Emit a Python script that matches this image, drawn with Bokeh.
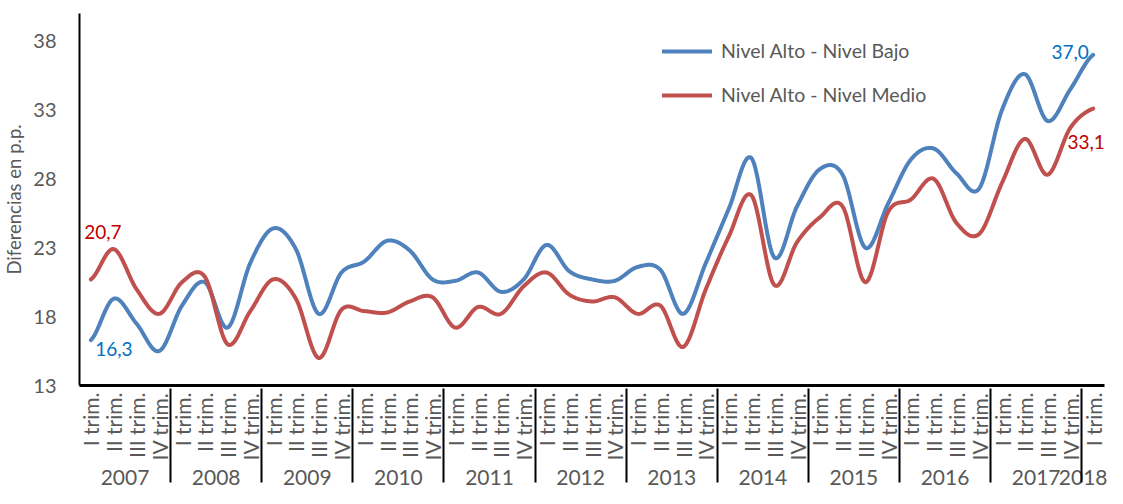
import numpy as np
from bokeh.plotting import figure
from bokeh.models import FactorRange, Range1d, FixedTicker, Legend, LegendItem
from bokeh.core.properties import value
from bokeh.embed import file_html
from bokeh.resources import INLINE

years = ["2007", "2008", "2009", "2010", "2011", "2012", "2013", "2014",
         "2015", "2016", "2017", "2018"]
quarters = ["I trim.", "II trim.", "III trim.", "IV trim."]
factors = [(y, q) for y in years[:-1] for q in quarters] + [("2018", "I trim.")]

alto_bajo = [16.3, 19.3, 17.5, 15.5,
             18.8, 20.5, 17.2, 21.9,
             24.4, 22.9, 18.2, 21.2,
             22.0, 23.5, 22.8, 20.7,
             20.6, 21.2, 19.8, 20.7,
             23.2, 21.3, 20.7, 20.6,
             21.6, 21.4, 18.2, 21.9,
             25.8, 29.5, 22.3, 26.0,
             28.7, 28.3, 23.0, 26.2,
             29.4, 30.2, 28.4, 27.3,
             33.0, 35.6, 32.2, 34.5,
             37.0]
alto_medio = [20.7, 22.9, 20.0, 18.2,
              20.5, 20.9, 16.0, 18.4,
              20.7, 19.3, 15.0, 18.5,
              18.4, 18.3, 19.1, 19.4,
              17.2, 18.7, 18.2, 20.2,
              21.2, 19.6, 19.1, 19.4,
              18.2, 18.8, 15.8, 20.0,
              23.8, 26.8, 20.3, 23.4,
              25.2, 26.0, 20.5, 25.6,
              26.5, 28.0, 24.8, 24.0,
              27.7, 30.9, 28.3, 31.7,
              33.1]
y_ticks = [13, 18, 23, 28, 33, 38]

BLUE = "#4F81BD"
RED = "#C0504D"
GREY = "#595959"
FONT = "Lato"


def smooth(vals, n=24):
    """Excel-style smoothed line (cubic Bezier through each data point)."""
    xs, ys = [], []
    m = len(vals)
    for i in range(m - 1):
        p0 = vals[i - 1] if i > 0 else vals[i]
        p1, p2 = vals[i], vals[i + 1]
        p3 = vals[i + 2] if i + 2 < m else vals[i + 1]
        c1 = p1 + (p2 - p0) / 6.0
        c2 = p2 - (p3 - p1) / 6.0
        for k in range(n):
            u = k / n
            y = ((1 - u) ** 3 * p1 + 3 * (1 - u) ** 2 * u * c1
                 + 3 * (1 - u) * u ** 2 * c2 + u ** 3 * p2)
            xs.append(list(factors[i]) + [u])
            ys.append(y)
    xs.append(list(factors[-1]) + [0.0])
    ys.append(vals[-1])
    return xs, ys


x_range = FactorRange(*factors, group_padding=0, subgroup_padding=0,
                      factor_padding=0, range_padding=0)

p = figure(width=1107, height=496, x_range=x_range, y_range=Range1d(13, 40),
           output_backend="svg", toolbar_location=None,
           min_border_left=74, min_border_right=3, min_border_top=13,
           min_border_bottom=111)
p.outline_line_color = None
p.xgrid.visible = False
p.ygrid.visible = False
p.background_fill_color = "white"
p.border_fill_color = "white"

bx, by = smooth(alto_bajo)
mx, my = smooth(alto_medio)
r_b = p.line(x=bx, y=by, line_color=BLUE, line_width=4, line_cap="round", line_join="round")
r_m = p.line(x=mx, y=my, line_color=RED, line_width=4, line_cap="round", line_join="round")


def fmt(v):
    return f"{v:.1f}".replace(".", ",")


LBL = "19px"
p.text(x=[factors[0]], y=[alto_medio[0]], text=[fmt(alto_medio[0])],
       x_offset=12, y_offset=-47, text_color="#C00000", text_font=value(FONT),
       text_font_size=LBL, text_align="center", text_baseline="middle")
p.text(x=[factors[0]], y=[alto_bajo[0]], text=[fmt(alto_bajo[0])],
       x_offset=23, y_offset=9, text_color="#0070C0", text_font=value(FONT),
       text_font_size=LBL, text_align="center", text_baseline="middle")
p.text(x=[factors[-1]], y=[alto_bajo[-1]], text=[fmt(alto_bajo[-1])],
       x_offset=-23, y_offset=-3, text_color="#0070C0", text_font=value(FONT),
       text_font_size=LBL, text_align="center", text_baseline="middle")
p.text(x=[factors[-1]], y=[alto_medio[-1]], text=[fmt(alto_medio[-1])],
       x_offset=-7, y_offset=33, text_color="#C00000", text_font=value(FONT),
       text_font_size=LBL, text_align="center", text_baseline="middle")

# y axis
yax = p.yaxis[0]
yax.ticker = FixedTicker(ticks=y_ticks)
yax.axis_label = "Diferencias en p.p."
yax.axis_label_text_font = FONT
yax.axis_label_text_font_style = "normal"
yax.axis_label_text_font_size = "18.5px"
yax.axis_label_text_color = GREY
yax.axis_label_standoff = 5
yax.major_label_text_font = FONT
yax.major_label_text_font_size = "20px"
yax.major_label_text_color = GREY
yax.major_tick_line_color = None
yax.minor_tick_line_color = None
yax.major_tick_out = 0
yax.major_tick_in = 0
yax.major_label_standoff = 23
yax.axis_line_color = "black"
yax.axis_line_width = 2

# x axis
xax = p.xaxis[0]
xax.axis_line_color = "black"
xax.axis_line_width = 3
xax.major_tick_line_color = None
xax.minor_tick_line_color = None
xax.major_tick_out = 0
xax.major_tick_in = 0
xax.major_label_orientation = np.pi / 2
xax.major_label_text_align = "right"
xax.major_label_standoff = 7
xax.major_label_text_font = FONT
xax.major_label_text_font_size = "21px"
xax.major_label_text_color = GREY
xax.group_label_orientation = "horizontal"
xax.group_text_font = FONT
xax.group_text_font_size = "21px"
xax.group_text_color = GREY
xax.group_text_font_style = "normal"
xax.separator_line_color = "black"
xax.separator_line_width = 2

legend = Legend(items=[LegendItem(label="Nivel Alto - Nivel Bajo", renderers=[r_b]),
                       LegendItem(label="Nivel Alto - Nivel Medio", renderers=[r_m])],
                location=(583, 279), orientation="vertical",
                padding=0, margin=0, spacing=21,
                glyph_width=50, glyph_height=20, label_height=20, label_standoff=9,
                label_text_font=FONT, label_text_font_size="19.5px",
                label_text_color=GREY, border_line_color=None,
                background_fill_alpha=0)
p.add_layout(legend)

open("out.html", "w").write(file_html(p, INLINE))
